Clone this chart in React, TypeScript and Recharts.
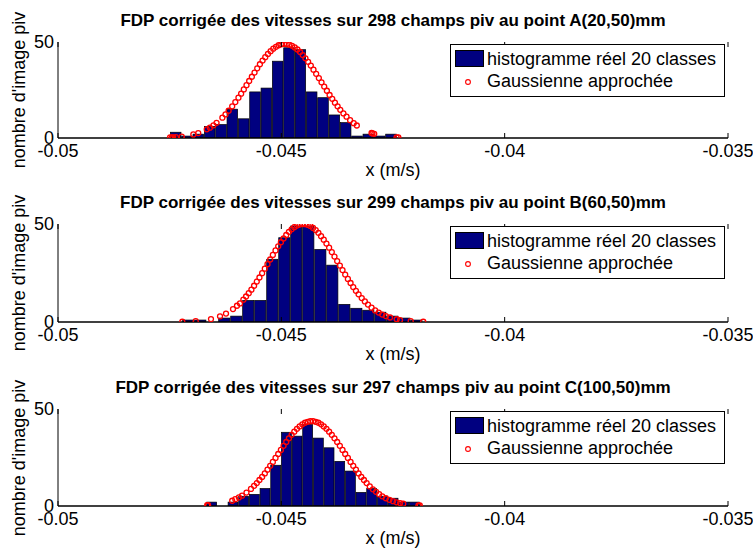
import { ComposedChart, Bar, Scatter, XAxis, YAxis, Legend } from 'recharts';

const FONT = "'Liberation Sans', Arial, Helvetica, sans-serif";
const NAVY = '#000080';
const RED = '#ff0000';

const xTicks = [-0.05, -0.045, -0.04, -0.035];
const yTicks = [0, 50];
const legendNames = ['histogramme réel 20 classes', 'Gaussienne approchée'];

const titles = [
  'FDP corrigée des vitesses sur 298 champs piv au point A(20,50)mm',
  'FDP corrigée des vitesses sur 299 champs piv au point B(60,50)mm',
  'FDP corrigée des vitesses sur 297 champs piv au point C(100,50)mm',
];

// bin centres (m/s) and counts, 20 classes per point
const centersA = [-0.047365, -0.047111, -0.046858, -0.046604, -0.04635, -0.046097, -0.045843, -0.045589, -0.045335, -0.045082,
  -0.044828, -0.044574, -0.044321, -0.044067, -0.043813, -0.04356, -0.043306, -0.043052, -0.042799, -0.042545];
const countsA = [3, 1, 2, 6, 7, 15, 10, 24, 26, 40, 47, 46, 24, 21, 12, 8, 1, 2, 1, 2];

const centersB = [-0.047083, -0.046814, -0.046546, -0.046277, -0.046008, -0.04574, -0.045471, -0.045202, -0.044933, -0.044665,
  -0.044396, -0.044127, -0.043859, -0.04359, -0.043321, -0.043053, -0.042784, -0.042515, -0.042246, -0.041978];
const countsB = [1, 1, 0, 2, 3, 11, 11, 32, 43, 49, 49, 37, 29, 9, 7, 6, 5, 3, 2, 1];

const centersC = [-0.046559, -0.04632, -0.046081, -0.045843, -0.045604, -0.045365, -0.045126, -0.044887, -0.044648, -0.04441,
  -0.044171, -0.043932, -0.043693, -0.043454, -0.043216, -0.042977, -0.042738, -0.042499, -0.04226, -0.042022];
const countsC = [2, 0, 2, 5, 6, 9, 21, 38, 36, 42, 35, 30, 23, 18, 7, 9, 5, 4, 2, 2];

// fitted gaussian, one circle per sample [x, y]
const gaussA: [number, number][] = [
  [-0.04749, 0.28], [-0.04745, 0.33], [-0.04742, 0.37], [-0.04736, 0.47], [-0.04723, 0.76], [-0.04697, 1.84], [-0.04686, 2.59],
  [-0.04667, 4.5], [-0.0466, 5.4], [-0.04652, 6.6], [-0.04645, 7.9], [-0.04632, 10.6], [-0.04625, 12.3], [-0.04618, 14.2],
  [-0.0461, 16.5], [-0.04603, 18.7], [-0.04596, 21.0], [-0.0459, 23.1], [-0.04584, 25.3], [-0.04578, 27.5], [-0.04572, 29.7],
  [-0.04566, 31.9], [-0.0456, 34.1], [-0.04554, 36.3], [-0.04548, 38.4], [-0.04542, 40.3], [-0.04536, 42.1], [-0.0453, 43.8],
  [-0.04524, 45.2], [-0.04518, 46.5], [-0.04512, 47.5], [-0.04506, 48.3], [-0.045, 48.8], [-0.04494, 49.0], [-0.04488, 48.9],
  [-0.04482, 48.6], [-0.04476, 48.0], [-0.0447, 47.2], [-0.04464, 46.1], [-0.04458, 44.8], [-0.04452, 43.2], [-0.04446, 41.5],
  [-0.0444, 39.7], [-0.04434, 37.7], [-0.04428, 35.6], [-0.04422, 33.4], [-0.04416, 31.2], [-0.0441, 29.0], [-0.04404, 26.8],
  [-0.04398, 24.6], [-0.04392, 22.4], [-0.04386, 20.4], [-0.0438, 18.4], [-0.04374, 16.5], [-0.04368, 14.7], [-0.04361, 12.8],
  [-0.04354, 11.1], [-0.04346, 9.3], [-0.04338, 7.7], [-0.04331, 6.5], [-0.04298, 2.6], [-0.04296, 2.4], [-0.04292, 2.2],
  [-0.04242, 0.37], [-0.04238, 0.33],
];

const gaussB: [number, number][] = [
  [-0.047217, 0.12], [-0.046917, 0.42], [-0.046575, 1.48], [-0.046373, 2.9], [-0.046239, 4.3], [-0.046082, 6.6], [-0.045993, 8.3],
  [-0.045925, 9.5], [-0.04585, 11.4], [-0.04579, 13.0], [-0.04573, 14.7], [-0.04567, 16.5], [-0.04561, 18.5], [-0.04555, 20.6],
  [-0.04549, 22.7], [-0.04543, 24.9], [-0.04537, 27.2], [-0.04531, 29.5], [-0.04525, 31.9], [-0.04519, 34.2], [-0.04513, 36.5],
  [-0.04507, 38.6], [-0.04501, 40.7], [-0.04495, 42.6], [-0.04489, 44.4], [-0.04483, 46.0], [-0.04477, 47.3], [-0.04471, 48.4],
  [-0.04465, 49.2], [-0.04459, 49.7], [-0.04453, 50.0], [-0.04447, 49.9], [-0.04441, 49.6], [-0.04435, 49.0], [-0.04429, 48.0],
  [-0.04423, 46.9], [-0.04417, 45.5], [-0.04411, 43.8], [-0.04405, 42.0], [-0.04399, 40.0], [-0.04393, 37.9], [-0.04387, 35.7],
  [-0.04381, 33.4], [-0.04375, 31.1], [-0.04369, 28.8], [-0.04363, 26.5], [-0.04357, 24.2], [-0.04351, 22.0], [-0.04345, 19.9],
  [-0.04339, 17.8], [-0.04333, 15.9], [-0.04327, 14.1], [-0.0432, 12.2], [-0.04313, 10.5], [-0.04306, 8.9], [-0.04298, 7.3],
  [-0.0429, 5.9], [-0.04282, 4.8], [-0.04274, 3.8], [-0.04266, 3.0], [-0.042567, 2.3], [-0.042417, 1.4], [-0.042343, 1.0],
  [-0.042104, 0.42], [-0.041822, 0.13],
];

const gaussC: [number, number][] = [
  [-0.04666, 0.38], [-0.04664, 0.41], [-0.0461, 2.7], [-0.04603, 3.5], [-0.04595, 4.4], [-0.04588, 5.3], [-0.04578, 6.9],
  [-0.04568, 8.8], [-0.04561, 10.4], [-0.04555, 11.8], [-0.04549, 13.4], [-0.04543, 15.0], [-0.04537, 16.8], [-0.04531, 18.7],
  [-0.04525, 20.7], [-0.04519, 22.7], [-0.04513, 24.8], [-0.04507, 26.8], [-0.04501, 28.9], [-0.04495, 31.0], [-0.04489, 33.0],
  [-0.04483, 34.9], [-0.04477, 36.7], [-0.04471, 38.3], [-0.04465, 39.8], [-0.04459, 41.0], [-0.04453, 42.1], [-0.04447, 42.9],
  [-0.04441, 43.4], [-0.04435, 43.7], [-0.04429, 43.7], [-0.04423, 43.4], [-0.04417, 42.9], [-0.04411, 42.1], [-0.04405, 41.0],
  [-0.04399, 39.8], [-0.04393, 38.3], [-0.04387, 36.7], [-0.04381, 34.9], [-0.04375, 33.0], [-0.04369, 31.0], [-0.04363, 28.9],
  [-0.04357, 26.8], [-0.04351, 24.8], [-0.04345, 22.7], [-0.04339, 20.7], [-0.04333, 18.7], [-0.04327, 16.8], [-0.04321, 15.0],
  [-0.04315, 13.4], [-0.04309, 11.8], [-0.04302, 10.1], [-0.04295, 8.6], [-0.04288, 7.3], [-0.04281, 6.1], [-0.04274, 5.0],
  [-0.04266, 4.0], [-0.04258, 3.2], [-0.0425, 2.5], [-0.04242, 1.9], [-0.04234, 1.5], [-0.04227, 1.15], [-0.04193, 0.31],
  [-0.0419, 0.27],
];

const panels = [
  { title: titles[0], centers: centersA, counts: countsA, gauss: gaussA, top: 0, plotH: 96, barW: 10.6 },
  { title: titles[1], centers: centersB, counts: countsB, gauss: gaussB, top: 182, plotH: 98, barW: 11.2 },
  { title: titles[2], centers: centersC, counts: countsC, gauss: gaussC, top: 367, plotH: 97, barW: 9.9 },
];

const XTick = ({ x, y, payload, plotH }: any) => (
  <g>
    <line x1={x} x2={x} y1={y - 6} y2={y - 11} stroke="#000" />
    <line x1={x} x2={x} y1={y - 6 - plotH} y2={y - 1 - plotH} stroke="#000" />
    <text x={x} y={y} dy="0.71em" textAnchor="middle" fontSize={18} fontFamily={FONT} fill="#000">
      {String(payload.value)}
    </text>
  </g>
);

// bars centred on their bin value, fixed pixel width
const HistBar = ({ x, y, width, height, barW }: any) => {
  if (!height || height <= 0) return null;
  const cx = x + width / 2;
  return <rect x={cx - barW / 2} y={y} width={barW} height={height} fill={NAVY} stroke="#000" strokeWidth={0.7} />;
};

const LegendBox = () => (
  <div style={{ position: 'relative', width: 273, height: 51, border: '1px solid #000', background: '#fff', fontFamily: FONT, fontSize: 18, color: '#000' }}>
    <div style={{ position: 'absolute', left: 4, top: 5, width: 27, height: 15, background: NAVY, border: '1px solid #000' }} />
    <span style={{ position: 'absolute', left: 36, top: 3, lineHeight: '22px', whiteSpace: 'nowrap' }}>{legendNames[0]}</span>
    <svg style={{ position: 'absolute', left: 12, top: 32 }} width={10} height={10}>
      <circle cx={5} cy={5} r={2.4} fill="none" stroke={RED} strokeWidth={1.1} />
    </svg>
    <span style={{ position: 'absolute', left: 36, top: 25, lineHeight: '22px', whiteSpace: 'nowrap' }}>{legendNames[1]}</span>
  </div>
);

const Panel = ({ title, centers, counts, gauss, top, plotH, barW }: any) => {
  const bins = centers.map((x: number, i: number) => ({ x, n: counts[i] }));
  const pts = gauss.map(([x, g]: [number, number]) => ({ x, g }));
  const h = 42 + plotH + 45;
  return (
    <div style={{ position: 'absolute', left: 0, top, width: 753, height: h }}>
      <div style={{ position: 'absolute', left: 58, top: 11, width: 670, textAlign: 'center', fontFamily: FONT, fontSize: 17, fontWeight: 'bold', lineHeight: '20px', whiteSpace: 'nowrap', color: '#000' }}>
        {title}
      </div>
      <div style={{ position: 'absolute', left: 19 - 100, top: 42 + plotH / 2 - 10, width: 200, height: 20, lineHeight: '20px', textAlign: 'center', transform: 'rotate(-90deg)', fontFamily: FONT, fontSize: 18, color: '#000', whiteSpace: 'nowrap' }}>
        nombre d'image piv
      </div>
      <ComposedChart width={753} height={h} data={bins} margin={{ top: 42, right: 25, bottom: 0, left: 0 }} style={{ position: 'absolute', left: 0, top: 0 }}>
        <XAxis
          dataKey="x"
          type="number"
          domain={[-0.05, -0.035]}
          allowDataOverflow
          ticks={xTicks}
          interval={0}
          height={45}
          tickSize={0}
          tickMargin={6}
          tickLine={false}
          axisLine={{ stroke: '#000', strokeWidth: 1.5 }}
          tick={(p: any) => <XTick {...p} plotH={plotH} />}
          label={{ value: 'x (m/s)', position: 'insideBottom', offset: 7, fontSize: 18, fill: '#000', fontFamily: FONT }}
        />
        <XAxis xAxisId="top" orientation="top" type="number" domain={[-0.05, -0.035]} allowDataOverflow height={0} tick={false} tickLine={false} axisLine={{ stroke: '#000' }} />
        <YAxis
          type="number"
          domain={[0, 50]}
          allowDataOverflow
          ticks={yTicks}
          interval={0}
          width={58}
          tickSize={0}
          tickMargin={4}
          tickLine={false}
          axisLine={{ stroke: '#000' }}
          tick={{ fontSize: 18, fill: '#000', fontFamily: FONT }}
        />
        <YAxis yAxisId="right" orientation="right" type="number" domain={[0, 50]} width={0} tick={false} tickLine={false} axisLine={{ stroke: '#000' }} />
        <Bar dataKey="n" fill={NAVY} isAnimationActive={false} shape={(p: any) => <HistBar {...p} barW={barW} />} />
        <Scatter
          data={pts}
          dataKey="g"
          isAnimationActive={false}
          shape={(p: any) => <circle cx={p.cx} cy={p.cy} r={2.5} fill="none" stroke={RED} strokeWidth={1.3} />}
        />
        <Legend
          layout="vertical"
          align="center"
          verticalAlign="middle"
          wrapperStyle={{ top: 44, left: 450, width: 275 }}
          content={() => <LegendBox />}
        />
      </ComposedChart>
    </div>
  );
}

export default function App() {
  return (
    <div style={{ position: 'absolute', left: 0, top: 0, width: 753, height: 550, overflow: 'hidden', background: '#fff' }}>
      {panels.map((p, i) => (
        <Panel key={i} {...p} />
      ))}
    </div>
  );
}
